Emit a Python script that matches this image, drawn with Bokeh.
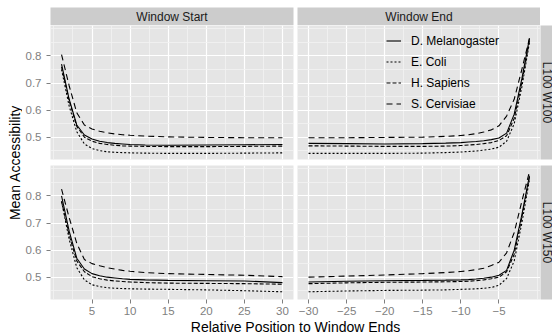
import math
from bokeh.plotting import figure
from bokeh.models import Range1d, LinearAxis, Grid, FixedTicker, Legend, LegendItem, Spacer
from bokeh.layouts import row, column
from bokeh.core.properties import value
from bokeh.embed import file_html
from bokeh.resources import INLINE

# ---------------- data ----------------
species = ["D. Melanogaster", "E. Coli", "H. Sapiens", "S. Cervisiae"]
col_labels = ["Window Start", "Window End"]
row_labels = ["L100 W100", "L100 W150"]

x_start = [1, 2, 3, 4, 5, 6, 7, 8, 9, 10, 12, 15, 20, 25, 30]
x_end = [-30, -25, -20, -15, -12, -10, -9, -8, -7, -6, -5, -4, -3, -2, -1]

# L100 W100, Window Start
w100_start_mel = [0.770, 0.640, 0.545, 0.508, 0.493, 0.485, 0.480, 0.477, 0.475, 0.473, 0.471, 0.470, 0.471, 0.472, 0.473]
w100_start_coli = [0.750, 0.615, 0.520, 0.475, 0.458, 0.450, 0.446, 0.444, 0.443, 0.442, 0.441, 0.440, 0.440, 0.441, 0.442]
w100_start_sap = [0.760, 0.635, 0.540, 0.500, 0.485, 0.477, 0.473, 0.470, 0.468, 0.467, 0.466, 0.465, 0.465, 0.466, 0.467]
w100_start_cer = [0.805, 0.690, 0.590, 0.545, 0.530, 0.522, 0.516, 0.512, 0.509, 0.507, 0.504, 0.501, 0.499, 0.498, 0.498]

# L100 W100, Window End
w100_end_mel = [0.477, 0.476, 0.475, 0.476, 0.478, 0.480, 0.482, 0.484, 0.487, 0.491, 0.497, 0.515, 0.585, 0.715, 0.865]
w100_end_coli = [0.440, 0.440, 0.440, 0.441, 0.443, 0.445, 0.447, 0.449, 0.452, 0.456, 0.463, 0.485, 0.550, 0.685, 0.850]
w100_end_sap = [0.468, 0.467, 0.466, 0.466, 0.467, 0.469, 0.471, 0.473, 0.476, 0.480, 0.488, 0.505, 0.570, 0.700, 0.858]
w100_end_cer = [0.498, 0.498, 0.499, 0.500, 0.503, 0.506, 0.509, 0.513, 0.519, 0.527, 0.542, 0.578, 0.640, 0.750, 0.865]

# L100 W150, Window Start
w150_start_mel = [0.800, 0.670, 0.570, 0.530, 0.513, 0.505, 0.500, 0.497, 0.494, 0.492, 0.490, 0.488, 0.487, 0.486, 0.480]
w150_start_coli = [0.780, 0.640, 0.535, 0.490, 0.472, 0.465, 0.461, 0.459, 0.458, 0.457, 0.456, 0.455, 0.453, 0.450, 0.446]
w150_start_sap = [0.780, 0.655, 0.560, 0.520, 0.502, 0.494, 0.489, 0.486, 0.484, 0.482, 0.480, 0.478, 0.477, 0.476, 0.474]
w150_start_cer = [0.825, 0.720, 0.625, 0.565, 0.550, 0.542, 0.535, 0.530, 0.525, 0.522, 0.517, 0.513, 0.510, 0.507, 0.502]

# L100 W150, Window End
w150_end_mel = [0.482, 0.485, 0.487, 0.488, 0.489, 0.490, 0.491, 0.493, 0.496, 0.500, 0.507, 0.525, 0.600, 0.730, 0.875]
w150_end_coli = [0.446, 0.449, 0.451, 0.452, 0.453, 0.455, 0.456, 0.457, 0.459, 0.462, 0.470, 0.495, 0.560, 0.700, 0.860]
w150_end_sap = [0.476, 0.479, 0.481, 0.482, 0.483, 0.484, 0.485, 0.487, 0.490, 0.494, 0.500, 0.520, 0.585, 0.720, 0.870]
w150_end_cer = [0.500, 0.504, 0.508, 0.513, 0.517, 0.521, 0.524, 0.528, 0.533, 0.543, 0.555, 0.590, 0.665, 0.780, 0.890]

y_ticks = [0.5, 0.6, 0.7, 0.8]
x_ticks_start = [5, 10, 15, 20, 25, 30]
x_ticks_end = [-30, -25, -20, -15, -10, -5]

panels = {
    (0, 0): (x_start, [w100_start_mel, w100_start_coli, w100_start_sap, w100_start_cer]),
    (0, 1): (x_end, [w100_end_mel, w100_end_coli, w100_end_sap, w100_end_cer]),
    (1, 0): (x_start, [w150_start_mel, w150_start_coli, w150_start_sap, w150_start_cer]),
    (1, 1): (x_end, [w150_end_mel, w150_end_coli, w150_end_sap, w150_end_cer]),
}

# ---------------- style ----------------
FONT = "Liberation Sans"
dashes = ["solid", "2 2", "4 2", "6 4"]
PANEL_BG = "#E5E5E5"
STRIP_BG = "#CCCCCC"
AXIS_GREY = "#7F7F7F"
Y_LO, Y_HI = 0.4175, 0.9125
BOTTOM_BORDER = 20
TITLE_H = 333 - 25 - 140 - (134 + BOTTOM_BORDER)


def minor_of(ticks, lo, hi):
    step = ticks[1] - ticks[0]
    ext = [ticks[0] - step] + list(ticks) + [ticks[-1] + step]
    out = []
    for a, b in zip(ext[:-1], ext[1:]):
        out.append(a)
        out.append((a + b) / 2)
    out.append(ext[-1])
    return [m for m in out if lo <= m <= hi and m not in ticks]


def expand(xs):
    lo, hi = min(xs), max(xs)
    pad = 0.05 * (hi - lo)
    return lo - pad, hi + pad


def base_fig(w, h, xr, yr, left=0, right=0, top=0, bottom=0):
    p = figure(width=w, height=h, x_range=Range1d(*xr), y_range=Range1d(*yr),
               x_axis_location=None, y_axis_location=None,
               output_backend="svg", toolbar_location=None,
               min_border=0, min_border_left=left, min_border_right=right,
               min_border_top=top, min_border_bottom=bottom)
    p.xgrid.visible = False
    p.ygrid.visible = False
    p.outline_line_color = None
    p.border_fill_color = "white"
    return p


def style_axis(ax, standoff):
    ax.axis_line_color = None
    ax.major_tick_line_color = AXIS_GREY
    ax.major_tick_in = 0
    ax.major_tick_out = 4
    ax.minor_tick_line_color = None
    ax.major_label_text_color = AXIS_GREY
    ax.major_label_text_font = FONT
    ax.major_label_text_font_size = "11.5px"
    ax.major_label_standoff = standoff


def make_panel(r, c):
    xs, series = panels[(r, c)]
    left = c == 0
    bottom = r == 1
    w = 275 if left else 243
    h = 134 + BOTTOM_BORDER if bottom else 140
    xr = expand(xs)
    p = base_fig(w, h, xr, (Y_LO, Y_HI),
                 left=28 if left else 0, right=4 if left else 0,
                 top=0, bottom=BOTTOM_BORDER if bottom else 6)
    p.background_fill_color = PANEL_BG
    xt = x_ticks_start if c == 0 else x_ticks_end
    xg = Grid(dimension=0, ticker=FixedTicker(ticks=xt, minor_ticks=minor_of(xt, xr[0], xr[1])),
              grid_line_color="white", grid_line_width=1.2,
              minor_grid_line_color="#F2F2F2", minor_grid_line_width=0.8)
    yg = Grid(dimension=1, ticker=FixedTicker(ticks=y_ticks, minor_ticks=minor_of(y_ticks, Y_LO, Y_HI)),
              grid_line_color="white", grid_line_width=1.2,
              minor_grid_line_color="#F2F2F2", minor_grid_line_width=0.8)
    p.add_layout(xg, "center")
    p.add_layout(yg, "center")
    rends = []
    for name, ys, d in zip(species, series, dashes):
        rr = p.line(xs, ys, line_color="black", line_width=1.1, line_dash=d)
        rends.append(rr)
    if left:
        ax = LinearAxis(ticker=FixedTicker(ticks=y_ticks))
        style_axis(ax, 5)
        p.add_layout(ax, "left")
    if bottom:
        ax = LinearAxis(ticker=FixedTicker(ticks=xt))
        style_axis(ax, 3)
        p.add_layout(ax, "below")
    return p, rends


def strip_top(label, left):
    w = 275 if left else 243
    p = base_fig(w, 25, (0, 1), (0, 1), left=28 if left else 0, right=4 if left else 0, top=7, bottom=0)
    p.background_fill_color = STRIP_BG
    p.text(x=[0.5], y=[0.5], text=[label], text_align="center", text_baseline="middle",
           text_font=value(FONT), text_font_size="12px", text_color="#1A1A1A")
    return p


def strip_right(label, bottom):
    h = 134 + BOTTOM_BORDER if bottom else 140
    p = base_fig(12, h, (0, 12), (0, 1), bottom=BOTTOM_BORDER if bottom else 6)
    p.background_fill_color = STRIP_BG
    p.text(x=[6.5], y=[0.5], text=[label], angle=-math.pi / 2, text_align="center",
           text_baseline="middle", text_font=value(FONT), text_font_size="12px",
           text_color="#1A1A1A")
    return p


tl, _ = make_panel(0, 0)
tr, tr_rends = make_panel(0, 1)
bl, _ = make_panel(1, 0)
br, _ = make_panel(1, 1)

legend = Legend(items=[LegendItem(label=n, renderers=[r]) for n, r in zip(species, tr_rends)],
                location=(89, 45), orientation="vertical",
                glyph_width=15, glyph_height=21, label_height=21, label_standoff=10,
                spacing=0, padding=0, margin=0,
                label_text_font=FONT, label_text_font_size="12px", label_text_color="black",
                background_fill_alpha=0, border_line_alpha=0)
tr.add_layout(legend)

# y title
yt_h = 140 + 134 + BOTTOM_BORDER
yt = base_fig(22, yt_h, (0, 22), (0, yt_h))
yt.text(x=[14], y=[yt_h - 137], text=["Mean Accessibility"], angle=math.pi / 2, text_align="center",
        text_baseline="middle", text_font=value(FONT), text_font_size="14px", text_color="black")

# x title
xt_fig = base_fig(518, TITLE_H, (0, 518), (0, TITLE_H))
xt_fig.text(x=[273], y=[7], text=["Relative Position to Window Ends"], text_align="center",
            text_baseline="middle", text_font=value(FONT), text_font_size="14px",
            text_color="black")

top_row = row(Spacer(width=22, height=25), strip_top(col_labels[0], True),
              strip_top(col_labels[1], False), Spacer(width=12, height=25))
mid = row(yt, column(row(tl, tr, strip_right(row_labels[0], False)),
                     row(bl, br, strip_right(row_labels[1], True))))
bot = row(Spacer(width=22, height=TITLE_H), xt_fig, Spacer(width=12, height=TITLE_H))
layout = column(top_row, mid, bot)

open("out.html", "w").write(file_html(layout, INLINE))
